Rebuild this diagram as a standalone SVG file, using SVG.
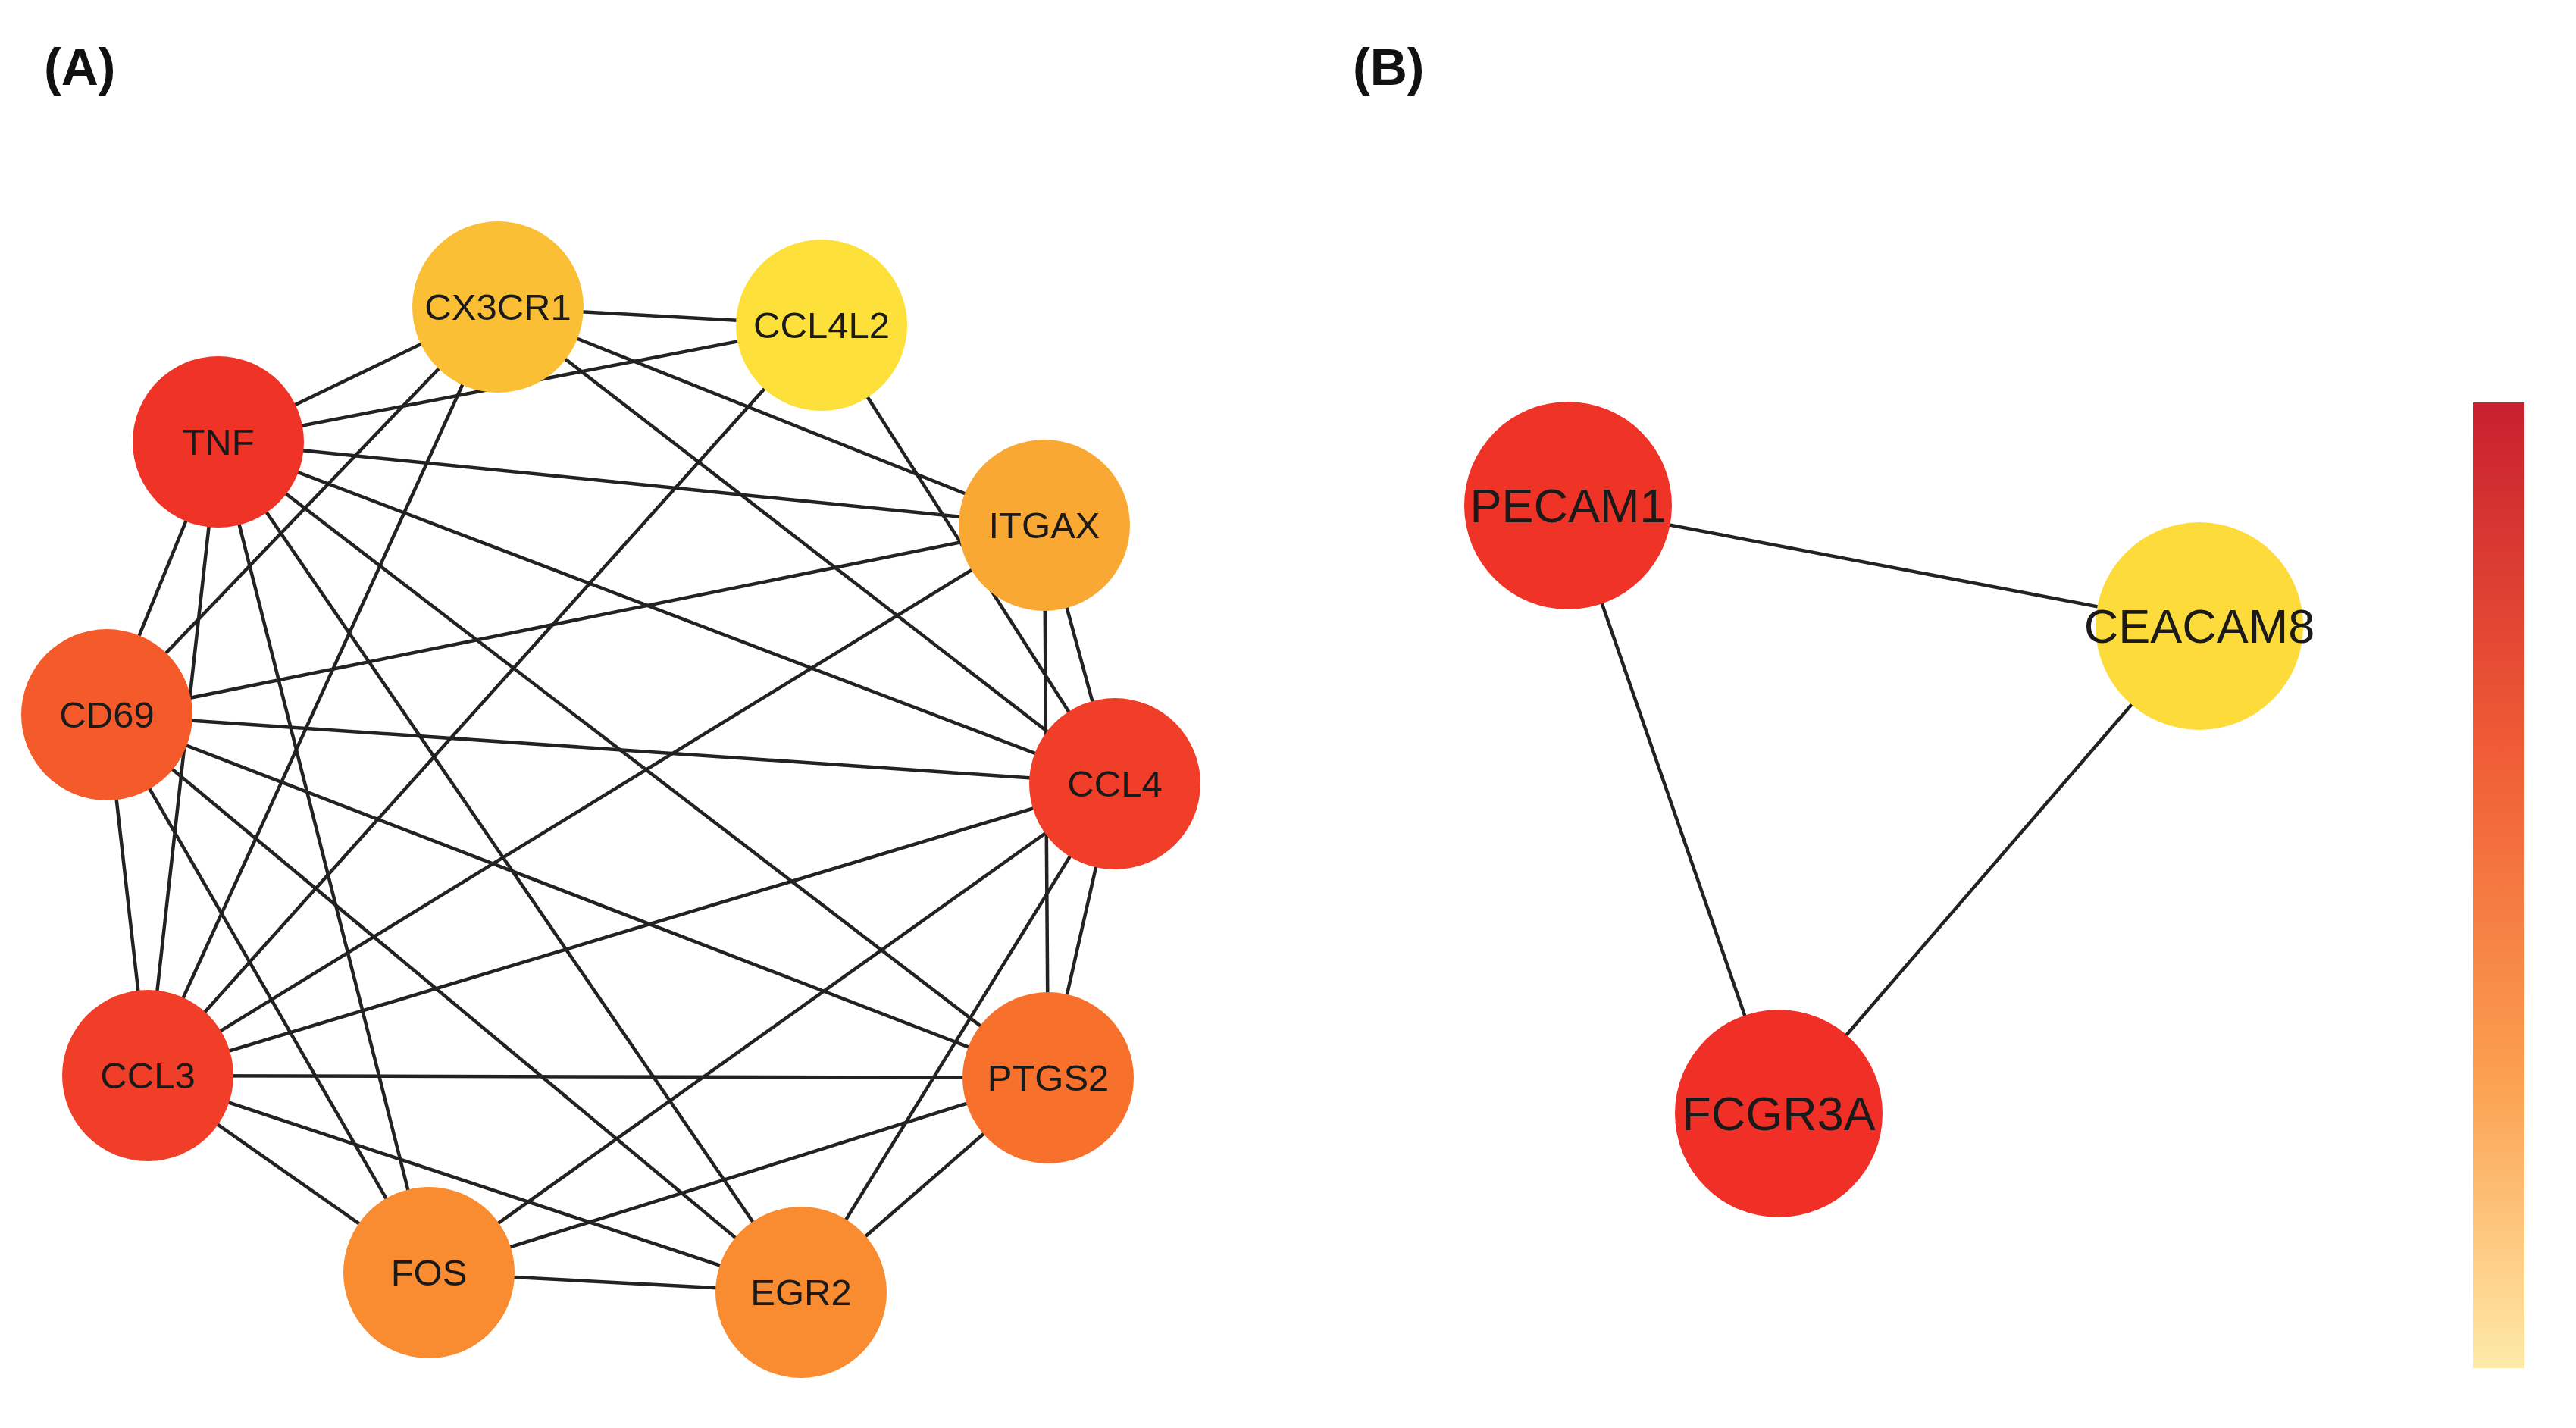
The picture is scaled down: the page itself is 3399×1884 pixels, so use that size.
<svg xmlns="http://www.w3.org/2000/svg" width="3399" height="1884" viewBox="0 0 3399 1884">
<style>
.e{stroke:#222;stroke-width:4.5;fill:none}
.a{font-family:"Liberation Sans",Arial,sans-serif;font-size:49px;fill:#1a1a1a;text-anchor:middle;dominant-baseline:central}
.b{font-family:"Liberation Sans",Arial,sans-serif;font-size:63px;fill:#1a1a1a;text-anchor:middle;dominant-baseline:central}
.t{font-family:"Liberation Sans",Arial,sans-serif;font-size:68px;font-weight:bold;fill:#111}
</style>
<defs><linearGradient id="g" x1="0" y1="0" x2="0" y2="1"><stop offset="0" stop-color="#c8202f"/><stop offset="0.35" stop-color="#ef5a35"/><stop offset="0.7" stop-color="#fba050"/><stop offset="1" stop-color="#feeaa8"/></linearGradient></defs>
<rect width="3399" height="1884" fill="#fff"/>
<text class="t" x="58" y="112">(A)</text>
<text class="t" x="1785" y="112">(B)</text>
<g id="edges">
<line class="e" x1="657" y1="405" x2="1084" y2="429"/>
<line class="e" x1="657" y1="405" x2="288" y2="583"/>
<line class="e" x1="657" y1="405" x2="141" y2="943"/>
<line class="e" x1="657" y1="405" x2="195" y2="1419"/>
<line class="e" x1="657" y1="405" x2="1378" y2="693"/>
<line class="e" x1="657" y1="405" x2="1471" y2="1034"/>
<line class="e" x1="1084" y1="429" x2="288" y2="583"/>
<line class="e" x1="1084" y1="429" x2="195" y2="1419"/>
<line class="e" x1="1084" y1="429" x2="1471" y2="1034"/>
<line class="e" x1="288" y1="583" x2="1378" y2="693"/>
<line class="e" x1="288" y1="583" x2="1471" y2="1034"/>
<line class="e" x1="288" y1="583" x2="141" y2="943"/>
<line class="e" x1="288" y1="583" x2="195" y2="1419"/>
<line class="e" x1="288" y1="583" x2="566" y2="1679"/>
<line class="e" x1="288" y1="583" x2="1057" y2="1705"/>
<line class="e" x1="288" y1="583" x2="1383" y2="1422"/>
<line class="e" x1="1378" y1="693" x2="141" y2="943"/>
<line class="e" x1="1378" y1="693" x2="195" y2="1419"/>
<line class="e" x1="1378" y1="693" x2="1471" y2="1034"/>
<line class="e" x1="1378" y1="693" x2="1383" y2="1422"/>
<line class="e" x1="1471" y1="1034" x2="1383" y2="1422"/>
<line class="e" x1="141" y1="943" x2="1471" y2="1034"/>
<line class="e" x1="141" y1="943" x2="1383" y2="1422"/>
<line class="e" x1="141" y1="943" x2="1057" y2="1705"/>
<line class="e" x1="141" y1="943" x2="566" y2="1679"/>
<line class="e" x1="141" y1="943" x2="195" y2="1419"/>
<line class="e" x1="1471" y1="1034" x2="195" y2="1419"/>
<line class="e" x1="1471" y1="1034" x2="566" y2="1679"/>
<line class="e" x1="1471" y1="1034" x2="1057" y2="1705"/>
<line class="e" x1="195" y1="1419" x2="1383" y2="1422"/>
<line class="e" x1="195" y1="1419" x2="566" y2="1679"/>
<line class="e" x1="195" y1="1419" x2="1057" y2="1705"/>
<line class="e" x1="1383" y1="1422" x2="566" y2="1679"/>
<line class="e" x1="1383" y1="1422" x2="1057" y2="1705"/>
<line class="e" x1="566" y1="1679" x2="1057" y2="1705"/>
<line class="e" x1="2069" y1="667" x2="2902" y2="826"/>
<line class="e" x1="2069" y1="667" x2="2347" y2="1469"/>
<line class="e" x1="2902" y1="826" x2="2347" y2="1469"/>
</g>
<g id="CX3CR1"><circle cx="657" cy="405" r="113" fill="#fbbf35"/><text class="a" x="657" y="405">CX3CR1</text></g>
<g id="CCL4L2"><circle cx="1084" cy="429" r="113" fill="#fde03a"/><text class="a" x="1084" y="429">CCL4L2</text></g>
<g id="TNF"><circle cx="288" cy="583" r="113" fill="#ef3327"/><text class="a" x="288" y="583">TNF</text></g>
<g id="ITGAX"><circle cx="1378" cy="693" r="113" fill="#faa834"/><text class="a" x="1378" y="693">ITGAX</text></g>
<g id="CD69"><circle cx="141" cy="943" r="113" fill="#f55a2a"/><text class="a" x="141" y="943">CD69</text></g>
<g id="CCL4"><circle cx="1471" cy="1034" r="113" fill="#f03e28"/><text class="a" x="1471" y="1034">CCL4</text></g>
<g id="CCL3"><circle cx="195" cy="1419" r="113" fill="#f03e28"/><text class="a" x="195" y="1419">CCL3</text></g>
<g id="PTGS2"><circle cx="1383" cy="1422" r="113" fill="#f7702c"/><text class="a" x="1383" y="1422">PTGS2</text></g>
<g id="FOS"><circle cx="566" cy="1679" r="113" fill="#f98b30"/><text class="a" x="566" y="1679">FOS</text></g>
<g id="EGR2"><circle cx="1057" cy="1705" r="113" fill="#f98b30"/><text class="a" x="1057" y="1705">EGR2</text></g>
<g id="PECAM1"><circle cx="2069" cy="667" r="137" fill="#ef3327"/><text class="b" x="2069" y="667">PECAM1</text></g>
<g id="CEACAM8"><circle cx="2902" cy="826" r="137" fill="#fddb3a"/><text class="b" x="2902" y="826">CEACAM8</text></g>
<g id="FCGR3A"><circle cx="2347" cy="1469" r="137" fill="#f03027"/><text class="b" x="2347" y="1469">FCGR3A</text></g>
<rect id="colorbar" x="3263" y="531" width="68" height="1274" fill="url(#g)"/>
</svg>
